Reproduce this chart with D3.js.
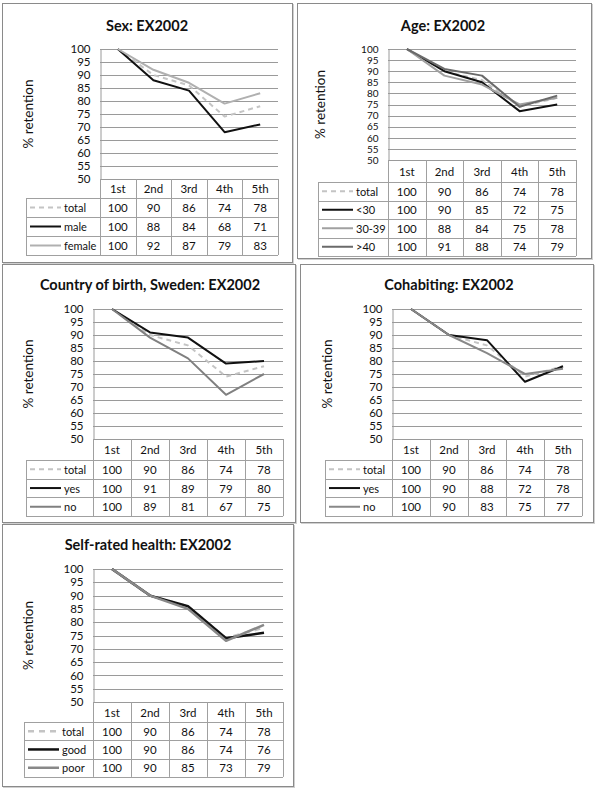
<!DOCTYPE html>
<html><head><meta charset="utf-8">
<script src="https://cdn.jsdelivr.net/npm/d3@7"></script>
<style>html,body{margin:0;padding:0;background:#fff;}svg{display:block;}</style>
</head><body>
<svg id="c" width="600" height="788"></svg>
<script>
// ---------- DATA ----------
const categories = ["1st", "2nd", "3rd", "4th", "5th"];
const yTicks = [50, 55, 60, 65, 70, 75, 80, 85, 90, 95, 100];
const total = [100, 90, 86, 74, 78];
const sexMale = [100, 88, 84, 68, 71];
const sexFemale = [100, 92, 87, 79, 83];
const ageUnder30 = [100, 90, 85, 72, 75];
const age30to39 = [100, 88, 84, 75, 78];
const ageOver40 = [100, 91, 88, 74, 79];
const swedenYes = [100, 91, 89, 79, 80];
const swedenNo = [100, 89, 81, 67, 75];
const cohabYes = [100, 90, 88, 72, 78];
const cohabNo = [100, 90, 83, 75, 77];
const healthGood = [100, 90, 86, 74, 76];
const healthPoor = [100, 90, 85, 73, 79];

const titles = ["Sex: EX2002", "Age: EX2002", "Country of birth, Sweden: EX2002", "Cohabiting: EX2002", "Self-rated health: EX2002"];
const seriesNames = [
  ["total", "male", "female"],
  ["total", "<30", "30-39", ">40"],
  ["total", "yes", "no"],
  ["total", "yes", "no"],
  ["total", "good", "poor"]
];
const seriesValues = [
  [total, sexMale, sexFemale],
  [total, ageUnder30, age30to39, ageOver40],
  [total, swedenYes, swedenNo],
  [total, cohabYes, cohabNo],
  [total, healthGood, healthPoor]
];

// ---------- STYLES ----------
const dashedTotal = {stroke: "#c4c4c4", dash: "5,4", width: 2};
const seriesStyles = [
  [dashedTotal, {stroke: "#111", width: 2}, {stroke: "#b0b0b0", width: 2}],
  [dashedTotal, {stroke: "#111", width: 2}, {stroke: "#a0a0a0", width: 2}, {stroke: "#6a6a6a", width: 2}],
  [dashedTotal, {stroke: "#111", width: 2}, {stroke: "#808080", width: 2}],
  [dashedTotal, {stroke: "#111", width: 2}, {stroke: "#888", width: 2}],
  [{stroke: "#c4c4c4", dash: "6,5", width: 2.5}, {stroke: "#111", width: 2.5}, {stroke: "#888", width: 2.5}]
];

// ---------- LAYOUT ----------
const layouts = [
  {box: [2, 3, 292, 262], tx: 147, ty: 25, legL: 26, pL: 100, pR: 278, yT: 49, yB: 179, hB: 198, rowH: 19, ylx: 28, tickFs: 11.5},
  {box: [297, 3, 591, 258], tx: 443, ty: 25, legL: 318, pL: 388, pR: 576, yT: 49, yB: 160, hB: 182, rowH: 18.5, ylx: 320, tickFs: 10},
  {box: [2, 264, 295, 522], tx: 150, ty: 284, legL: 26, pL: 93, pR: 283, yT: 309, yB: 439, hB: 460, rowH: 18.7, ylx: 28, tickFs: 11.5},
  {box: [300, 264, 593, 522], tx: 449, ty: 284, legL: 325, pL: 392, pR: 582, yT: 309, yB: 439, hB: 460, rowH: 18.7, ylx: 327, tickFs: 11.5},
  {box: [2, 524, 293, 786], tx: 148, ty: 544, legL: 24, pL: 93, pR: 283, yT: 569, yB: 702, hB: 722, rowH: 18.3, ylx: 28, tickFs: 11.5}
];

const FONT = "Lato, 'Open Sans', sans-serif";
const svg = d3.select("#c");
const gridCol = "#9a9a9a";
const tableCol = "#a0a0a0";

layouts.forEach((L, i) => {
  const g = svg.append("g");
  // panel frame
  g.append("rect")
    .attr("x", L.box[0] + 1.5).attr("y", L.box[1] + 1.5)
    .attr("width", L.box[2] - L.box[0]).attr("height", L.box[3] - L.box[1])
    .attr("fill", "none").attr("stroke", "#d0d0d0").attr("stroke-width", 1);
  g.append("rect")
    .attr("x", L.box[0] + 0.5).attr("y", L.box[1] + 0.5)
    .attr("width", L.box[2] - L.box[0]).attr("height", L.box[3] - L.box[1])
    .attr("fill", "#fff").attr("stroke", "#8a8a8a").attr("stroke-width", 1);

  // title
  g.append("text").attr("x", L.tx).attr("y", L.ty)
    .attr("text-anchor", "middle").attr("dominant-baseline", "central")
    .attr("font-family", FONT).attr("font-weight", "bold").attr("font-size", 14.5)
    .attr("fill", "#111").text(titles[i]);

  const x = d3.scaleBand().domain(categories).range([L.pL, L.pR]);
  const y = d3.scaleLinear().domain([50, 100]).range([L.yB, L.yT]);

  // gridlines
  g.selectAll(".grid").data(yTicks).join("line")
    .attr("x1", L.pL).attr("x2", L.pR)
    .attr("y1", d => Math.round(y(d)) + 0.5).attr("y2", d => Math.round(y(d)) + 0.5)
    .attr("stroke", gridCol).attr("stroke-width", 1);

  // y axis
  const yAxis = d3.axisLeft(y).tickValues(yTicks).tickSize(0).tickPadding(10);
  const ya = g.append("g").attr("transform", `translate(${Math.round(L.pL) + 0.5},0)`).call(yAxis);
  ya.select(".domain").attr("stroke", gridCol);
  ya.selectAll("text").attr("font-family", FONT).attr("font-size", L.tickFs).attr("fill", "#111");

  // y label
  g.append("text")
    .attr("transform", `translate(${L.ylx},${(L.yT + L.yB) / 2}) rotate(-90)`)
    .attr("text-anchor", "middle").attr("dominant-baseline", "central")
    .attr("font-family", FONT).attr("font-size", 13.5).attr("fill", "#111")
    .text("% retention");

  // table
  const nRows = seriesNames[i].length;
  const tBottom = L.hB + nRows * L.rowH;
  const tg = g.append("g");
  const edges = categories.map(c => x(c)).concat([L.pR]);
  edges.forEach(ex => {
    tg.append("line").attr("x1", Math.round(ex) + 0.5).attr("x2", Math.round(ex) + 0.5)
      .attr("y1", L.yB).attr("y2", tBottom).attr("stroke", tableCol);
  });
  tg.append("line").attr("x1", L.legL + 0.5).attr("x2", L.legL + 0.5)
    .attr("y1", L.hB).attr("y2", tBottom).attr("stroke", tableCol);
  for (let r = 0; r <= nRows; r++) {
    const yy = Math.round(L.hB + r * L.rowH) + 0.5;
    tg.append("line").attr("x1", L.legL).attr("x2", L.pR)
      .attr("y1", yy).attr("y2", yy).attr("stroke", tableCol);
  }
  tg.selectAll(".hdr").data(categories).join("text")
    .attr("x", d => x(d) + x.bandwidth() / 2).attr("y", (L.yB + L.hB) / 2)
    .attr("text-anchor", "middle").attr("dominant-baseline", "central")
    .attr("font-family", FONT).attr("font-size", 11.5).attr("fill", "#111")
    .text(d => d);
  seriesNames[i].forEach((name, r) => {
    const cy = L.hB + (r + 0.5) * L.rowH;
    const st = seriesStyles[i][r];
    tg.append("line").attr("x1", L.legL + 4).attr("x2", L.legL + 35)
      .attr("y1", cy).attr("y2", cy)
      .attr("stroke", st.stroke).attr("stroke-width", st.width)
      .attr("stroke-dasharray", st.dash || null);
    tg.append("text").attr("x", L.legL + 38).attr("y", cy)
      .attr("dominant-baseline", "central")
      .attr("font-family", FONT).attr("font-size", 11).attr("fill", "#111")
      .text(name);
    tg.selectAll(null).data(seriesValues[i][r]).join("text")
      .attr("x", (d, k) => x(categories[k]) + x.bandwidth() / 2).attr("y", cy)
      .attr("text-anchor", "middle").attr("dominant-baseline", "central")
      .attr("font-family", FONT).attr("font-size", 11.5).attr("fill", "#111")
      .text(d => d);
  });

  // lines
  const line = d3.line().x((d, k) => x(categories[k]) + x.bandwidth() / 2).y(d => y(d));
  seriesValues[i].forEach((vals, r) => {
    const st = seriesStyles[i][r];
    g.append("path").datum(vals).attr("d", line)
      .attr("fill", "none").attr("stroke", st.stroke).attr("stroke-width", st.width)
      .attr("stroke-dasharray", st.dash || null)
      .attr("stroke-linejoin", "round");
  });
});
</script>
</body></html>
